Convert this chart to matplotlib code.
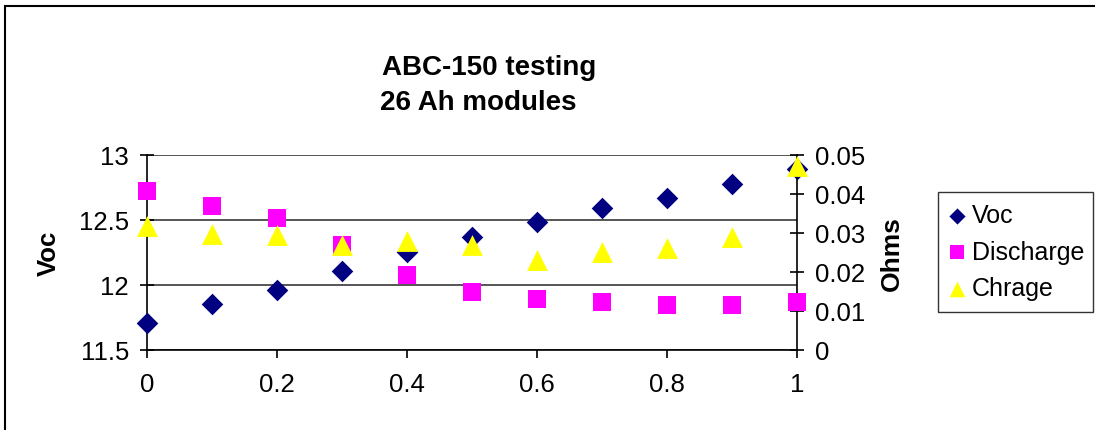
import matplotlib
matplotlib.use("Agg")
import matplotlib.pyplot as plt
from matplotlib.patches import Rectangle

plt.rcParams['font.family'] = ['Liberation Sans', 'DejaVu Sans']

# state of charge fraction
soc = [0, 0.1, 0.2, 0.3, 0.4, 0.5, 0.6, 0.7, 0.8, 0.9, 1.0]
# open circuit voltage (left axis)
voc = [11.705, 11.854, 11.964, 12.11, 12.256, 12.372, 12.482, 12.592, 12.667, 12.779, 12.892]
# resistance in ohms (right axis)
discharge = [0.0408, 0.0370, 0.0338, 0.0268, 0.0192, 0.0150, 0.0131, 0.0122, 0.0116, 0.0116, 0.0122]
charge = [0.0317, 0.0297, 0.0295, 0.0270, 0.0280, 0.0269, 0.0231, 0.0252, 0.0262, 0.0289, 0.0471]

x_ticks = [0, 0.2, 0.4, 0.6, 0.8, 1.0]
x_labels = ['0', '0.2', '0.4', '0.6', '0.8', '1']
left_ticks = [11.5, 12, 12.5, 13]
left_labels = ['11.5', '12', '12.5', '13']
right_ticks = [0, 0.01, 0.02, 0.03, 0.04, 0.05]
right_labels = ['0', '0.01', '0.02', '0.03', '0.04', '0.05']

W, H = 1095, 431
fig = plt.figure(figsize=(W / 100, H / 100), dpi=100)
fig.patch.set_facecolor('white')

# outer chart border (only left/top edges visible)
fig.patches.append(Rectangle((4.5 / W, -0.1), 2, 1 - 6.5 / H + 0.1, transform=fig.transFigure,
                             fill=False, edgecolor='black', linewidth=1.5))

ax = fig.add_axes([147 / W, (H - 351) / H, 650 / W, 195 / H])
ax2 = ax.twinx()

ax.scatter(soc, voc, marker='D', s=11 ** 2, color='#000080', linewidths=0,
           label='Voc', zorder=3, clip_on=False)
ax2.scatter(soc, discharge, marker='s', s=12.5 ** 2, color='#FF00FF', linewidths=0,
            label='Discharge', zorder=3, clip_on=False)
ax2.scatter(soc, charge, marker='^', s=15 ** 2, color='#FFFF00', linewidths=0,
            label='Chrage', zorder=4, clip_on=False)

ax.set_xlim(0, 1)
ax.set_ylim(11.5, 13)
ax2.set_ylim(0, 0.05)

ax.set_xticks(x_ticks)
ax.set_xticklabels(x_labels)
ax.set_yticks(left_ticks)
ax.set_yticklabels(left_labels)
ax2.set_yticks(right_ticks)
ax2.set_yticklabels(right_labels)

ax.yaxis.grid(True, color='#383838', linewidth=1.2)
ax.set_axisbelow(True)

for a in (ax, ax2):
    a.spines['top'].set_visible(False)
    for s in a.spines.values():
        s.set_linewidth(1.2)
ax.spines['right'].set_visible(False)
ax2.spines['left'].set_visible(False)
ax2.spines['bottom'].set_visible(False)

ax.tick_params(axis='x', direction='out', length=6, width=1.2, pad=10, labelsize=18.5)
ax.tick_params(axis='y', direction='inout', length=10, width=1.2, pad=8, labelsize=18.5)
ax2.tick_params(axis='y', direction='inout', length=10, width=1.2, pad=8, labelsize=18.5)

ax.set_ylabel('Voc', fontsize=18.5, fontweight='bold')
ax.yaxis.set_label_coords(-0.1325, 0.5)
ax2.set_ylabel('Ohms', fontsize=19, fontweight='bold')
ax2.yaxis.set_label_coords(1.128, 0.5)

fig.text(382 / W, (H - 75) / H, 'ABC-150 testing', fontsize=20, fontweight='bold',
         ha='left', va='baseline')
fig.text(380 / W, (H - 110) / H, '26 Ah modules', fontsize=20, fontweight='bold',
         ha='left', va='baseline')

h1, l1 = ax.get_legend_handles_labels()
h2, l2 = ax2.get_legend_handles_labels()
leg = fig.legend(h1 + h2, l1 + l2, loc='upper left',
                 bbox_to_anchor=(938 / W, (H - 313) / H, 155 / W, 120 / H),
                 mode='expand', fontsize=18, frameon=True, fancybox=False,
                 edgecolor='black', handlelength=0.6, handletextpad=0.3,
                 borderpad=0.45, labelspacing=0.5, borderaxespad=0,
                 markerscale=0.75)
leg.get_frame().set_linewidth(1.0)

fig.savefig('out.png', dpi=100)
